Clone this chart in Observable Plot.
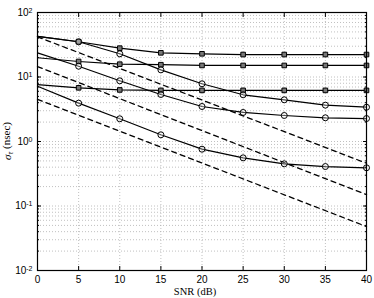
<!DOCTYPE html>
<html><head><meta charset="utf-8">
<script src="https://cdn.jsdelivr.net/npm/d3@7"></script>
<script src="https://cdn.jsdelivr.net/npm/@observablehq/plot@0.6"></script>
<style>
html,body{margin:0;padding:0;background:#fff;}
svg{display:block;}
</style>
</head><body>
<div id="chart"></div>
<script>
const snr = [0, 5, 10, 15, 20, 25, 30, 35, 40];
const squareTop = [42.5, 35.2, 28.0, 23.7, 22.9, 22.3, 22.3, 22.3, 22.3];
const squareMid = [19.9, 17.4, 15.8, 15.5, 15.1, 15.1, 15.1, 15.1, 15.1];
const squareLow = [7.6, 6.8, 6.3, 6.2, 6.2, 6.2, 6.2, 6.2, 6.2];
const circleTop = [42.5, 35.2, 22.9, 12.9, 7.85, 5.3, 4.43, 3.66, 3.4];
const circleMid = [23.7, 14.7, 8.73, 5.36, 3.49, 2.82, 2.53, 2.33, 2.27];
const circleLow = [7.2, 3.93, 2.25, 1.27, 0.76, 0.558, 0.451, 0.409, 0.391];
const dashedSnr = [0, 40];
const dashedTop = [42, 0.46];
const dashedMid = [14.5, 0.15];
const dashedLow = [4.5, 0.048];
const xTicks = [0, 5, 10, 15, 20, 25, 30, 35, 40];
const yTicks = [0.01, 0.1, 1, 10, 100];
const yTickLabels = ["-2", "-1", "0", "1", "2"];

const yMinor = [];
for (let k = -2; k < 2; k++) for (let d = 1; d <= 9; d++) yMinor.push(d * Math.pow(10, k));
yMinor.push(100);

function rows(xs, ys, name) { return xs.map((x, i) => ({x, y: ys[i], s: name})); }
const solidSquares = [rows(snr, squareTop, "sA"), rows(snr, squareMid, "sB"), rows(snr, squareLow, "sC")];
const solidCircles = [rows(snr, circleTop, "cA"), rows(snr, circleMid, "cB"), rows(snr, circleLow, "cC")];
const dashed = [rows(dashedSnr, dashedTop, "dA"), rows(dashedSnr, dashedMid, "dB"), rows(dashedSnr, dashedLow, "dC")];

const lineData = [...solidSquares, ...solidCircles].flat();
const dashData = dashed.flat();
const sqMarks = solidSquares.flat().filter(d => d.x > 0);
const ciMarks = solidCircles.flat().filter(d => d.x > 0);

const grid = {stroke: "#b0b0b0", strokeOpacity: 1, strokeWidth: 0.8, strokeDasharray: "1,2"};

const chart = Plot.plot({
  width: 374, height: 298,
  marginLeft: 37, marginRight: 8, marginTop: 12, marginBottom: 28,
  style: {fontFamily: "'Liberation Sans', Arial, sans-serif", fontSize: "10px", color: "#000", background: "#fff"},
  x: {domain: [0, 40]},
  y: {type: "log", domain: [0.01, 100]},
  marks: [
    Plot.gridX(xTicks, grid),
    Plot.gridY(yMinor, grid),
    Plot.line(dashData, {x: "x", y: "y", z: "s", stroke: "#000", strokeWidth: 1.3, strokeDasharray: "5,4"}),
    Plot.line(lineData, {x: "x", y: "y", z: "s", stroke: "#000", strokeWidth: 1.2}),
    Plot.dot(sqMarks, {x: "x", y: "y", symbol: "square", r: 2.6, fill: "#777", stroke: "#000", strokeWidth: 1}),
    Plot.dot(ciMarks, {x: "x", y: "y", symbol: "circle", r: 3, fill: "#fff", fillOpacity: 0.3, stroke: "#000", strokeWidth: 1}),
    Plot.axisX(xTicks, {anchor: "bottom", tickSize: 0, tickPadding: 5, label: null, tickFormat: d => String(d)}),
    Plot.axisX(xTicks, {anchor: "bottom", tickSize: -4, label: null, text: null}),
    Plot.axisX(xTicks, {anchor: "top", tickSize: -4, label: null, text: null}),
    Plot.axisY(yTicks, {anchor: "left", tickSize: 0, tickPadding: 5, label: null, tickFormat: (d) => "10^" + yTickLabels[yTicks.indexOf(d)]}),
    Plot.axisY(yTicks, {anchor: "left", tickSize: -4, label: null, text: null}),
    Plot.axisY(yMinor, {anchor: "left", tickSize: -2, label: null, text: null}),
    Plot.axisY(yTicks, {anchor: "right", tickSize: -4, label: null, text: null}),
    Plot.axisY(yMinor, {anchor: "right", tickSize: -2, label: null, text: null}),
    Plot.frame({stroke: "#000", strokeWidth: 1.2})
  ]
});
document.getElementById("chart").appendChild(chart);

const svg = d3.select(chart);
svg.selectAll("text").each(function() {
  const t = this.textContent;
  if (t.startsWith("10^")) {
    const exp = t.slice(3);
    const el = d3.select(this);
    el.text("10");
    el.append("tspan").attr("dy", "-0.45em").attr("font-size", "7px").text(exp);
  }
});

svg.append("text")
  .attr("transform", "translate(11,141) rotate(-90)")
  .attr("text-anchor", "middle")
  .attr("font-family", "'Liberation Serif', 'DejaVu Serif', serif")
  .attr("font-size", "11px")
  .attr("fill", "#000")
  .call(t => {
    t.append("tspan").attr("font-style", "italic").text("σ");
    t.append("tspan").attr("font-style", "italic").attr("font-size", "8px").attr("dy", "0.3em").text("τ");
    t.append("tspan").attr("dy", "-0.3em").text(" (nsec)");
  });

svg.append("text")
  .attr("x", 195).attr("y", 295)
  .attr("text-anchor", "middle")
  .attr("font-family", "'Liberation Serif', 'DejaVu Serif', serif")
  .attr("font-size", "10.5px")
  .attr("fill", "#000")
  .text("SNR (dB)");
</script>
</body></html>
